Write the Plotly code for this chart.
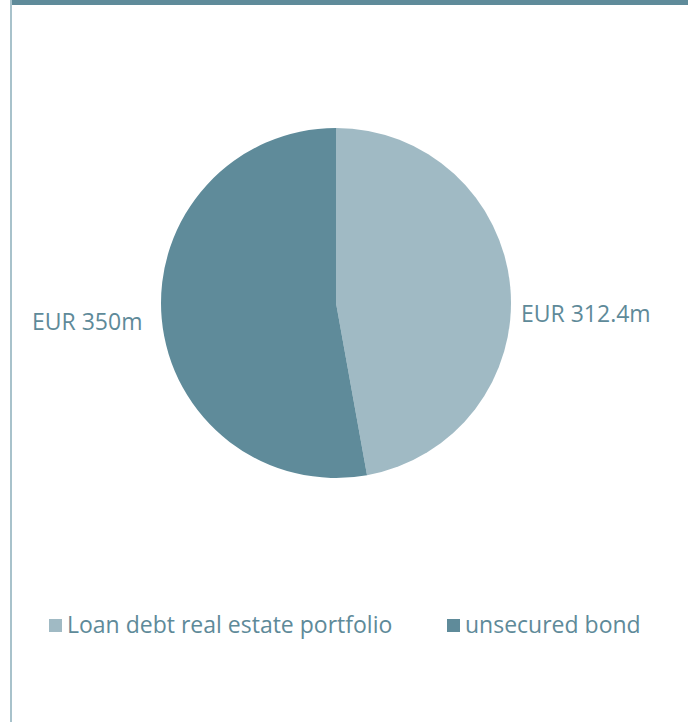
import plotly.graph_objects as go

labels = ["Loan debt real estate portfolio", "unsecured bond"]
values = [312.4, 350]
colors = ["#a0bac4", "#5f8b9a"]

W, H = 688, 722
TEXT = "#5e8a99"
FONT = "Open Sans"
FS = 23

def px(x):
    return x / W

def py(y):
    return 1 - y / H

fig = go.Figure(go.Pie(
    labels=labels, values=values, sort=False, direction="clockwise", rotation=0,
    marker=dict(colors=colors, line=dict(width=0)),
    textinfo="none", hoverinfo="label+value", showlegend=False,
    domain=dict(x=[px(161), px(511)], y=[py(478), py(128)]),
))

# value labels beside the pie
label_text = [f"EUR {v:g}m" for v in values]
fig.add_annotation(text=label_text[0], x=px(519), y=py(313), xref="paper", yref="paper",
                   xanchor="left", yanchor="middle", showarrow=False,
                   font=dict(family=FONT, size=FS, color=TEXT))
fig.add_annotation(text=label_text[1], x=px(144), y=py(321), xref="paper", yref="paper",
                   xanchor="right", yanchor="middle", showarrow=False,
                   font=dict(family=FONT, size=FS, color=TEXT))

# legend (squares + text)
legend_sq_x = [49, 447]
legend_txt_x = [65, 463]
for lab, col, sx, tx in zip(labels, colors, legend_sq_x, legend_txt_x):
    fig.add_shape(type="rect", xref="paper", yref="paper", x0=px(sx), x1=px(sx + 13),
                  y0=py(632), y1=py(619), fillcolor=col, line=dict(width=0))
    fig.add_annotation(text=lab, x=px(tx), y=py(624), xref="paper", yref="paper",
                       xanchor="left", yanchor="middle", showarrow=False,
                       font=dict(family=FONT, size=FS, color=TEXT))

# frame: top bar and left rule
fig.add_shape(type="rect", xref="paper", yref="paper", x0=px(12), x1=1, y0=py(5), y1=1,
              fillcolor="#5f8b9a", line=dict(width=0), layer="above")
fig.add_shape(type="rect", xref="paper", yref="paper", x0=px(10), x1=px(12), y0=0, y1=1,
              fillcolor="#a8c2cb", line=dict(width=0), layer="above")

fig.update_layout(
    width=W, height=H, margin=dict(l=0, r=0, t=0, b=0),
    paper_bgcolor="white", plot_bgcolor="white",
    showlegend=False,
)

fig.write_html("out.html", config={"displayModeBar": False},
               post_script="document.body.style.margin='0';document.body.style.overflow='hidden';")
